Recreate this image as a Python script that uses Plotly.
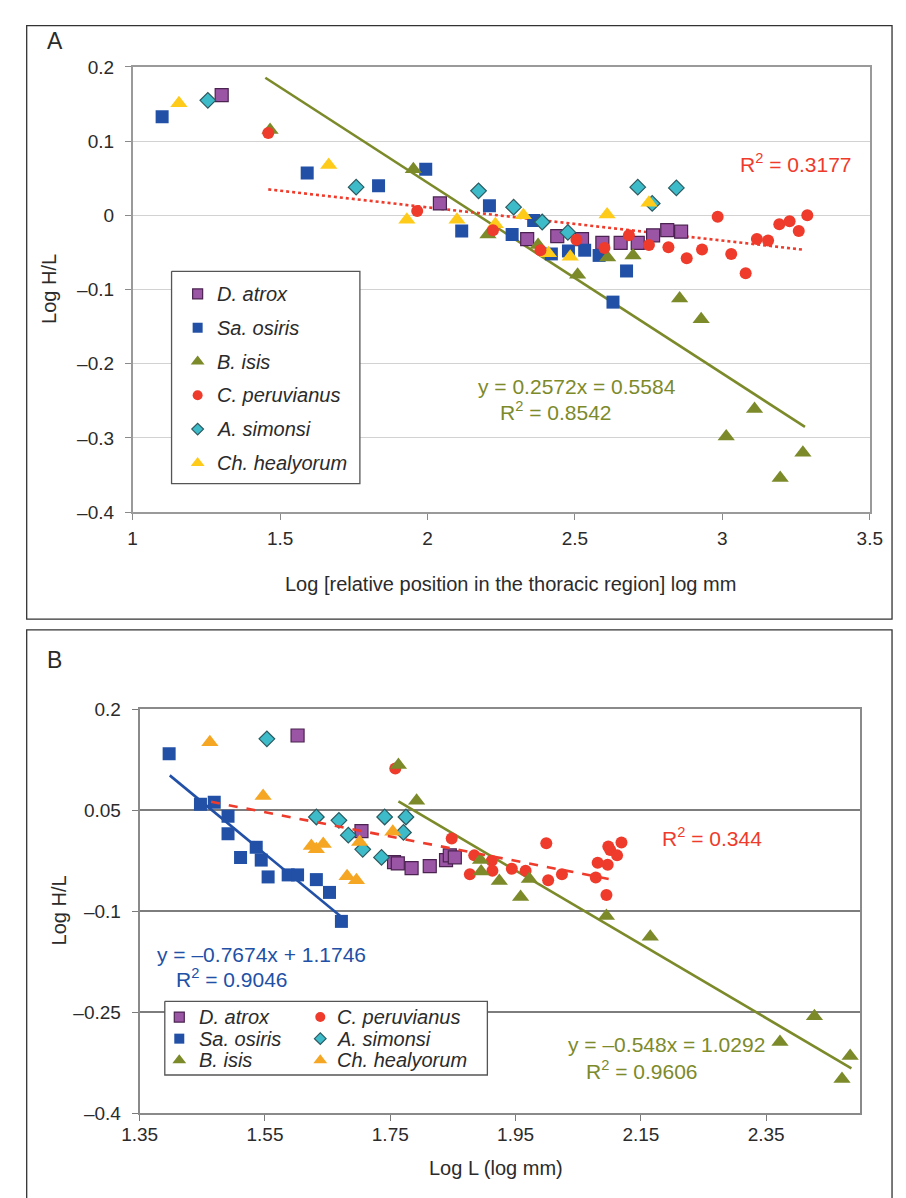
import plotly.graph_objects as go

# ---------------- data ----------------
SPECIES = ["D. atrox", "Sa. osiris", "B. isis", "C. peruvianus", "A. simonsi", "Ch. healyorum"]

# Panel A: log relative thoracic position vs log H/L
a_atrox_x = [1.302, 2.042, 2.338, 2.44, 2.524, 2.593, 2.655, 2.713, 2.765, 2.813, 2.860]
a_atrox_y = [0.162, 0.016, -0.032, -0.028, -0.032, -0.037, -0.037, -0.037, -0.027, -0.020, -0.022]
a_osiris_x = [1.10, 1.592, 1.834, 1.994, 2.116, 2.21, 2.287, 2.36, 2.42, 2.478, 2.533, 2.582, 2.629, 2.675]
a_osiris_y = [0.133, 0.057, 0.040, 0.062, -0.021, 0.013, -0.026, -0.007, -0.052, -0.048, -0.047, -0.054, -0.117, -0.075]
a_isis_x = [1.466, 1.952, 2.205, 2.375, 2.509, 2.611, 2.697, 2.855, 2.928, 3.013, 3.109, 3.196, 3.273]
a_isis_y = [0.115, 0.062, -0.026, -0.040, -0.080, -0.057, -0.054, -0.112, -0.140, -0.298, -0.261, -0.354, -0.320]
a_peru_x = [1.46, 1.965, 2.222, 2.383, 2.505, 2.60, 2.683, 2.751, 2.817, 2.879, 2.931, 2.984, 3.03,
            3.079, 3.117, 3.155, 3.193, 3.228, 3.259, 3.288]
a_peru_y = [0.111, 0.006, -0.020, -0.047, -0.033, -0.044, -0.027, -0.040, -0.043, -0.058, -0.046, -0.002,
            -0.052, -0.078, -0.032, -0.034, -0.012, -0.008, -0.021, 0.0]
a_simonsi_x = [1.255, 1.758, 2.173, 2.292, 2.389, 2.476, 2.713, 2.762, 2.844]
a_simonsi_y = [0.155, 0.038, 0.033, 0.011, -0.009, -0.023, 0.038, 0.016, 0.037]
a_healy_x = [1.157, 1.665, 1.93, 2.10, 2.23, 2.325, 2.41, 2.484, 2.609, 2.751]
a_healy_y = [0.151, 0.068, -0.006, -0.006, -0.012, 0.0, -0.051, -0.056, 0.001, 0.017]

# Panel B: log L vs log H/L
b_atrox_x = [1.602, 1.704, 1.756, 1.762, 1.784, 1.813, 1.839, 1.845, 1.853]
b_atrox_y = [0.161, 0.019, -0.027, -0.029, -0.036, -0.033, -0.024, -0.017, -0.020]
b_osiris_x = [1.397, 1.447, 1.469, 1.491, 1.491, 1.511, 1.536, 1.544, 1.555, 1.587, 1.602, 1.632, 1.653, 1.672]
b_osiris_y = [0.134, 0.059, 0.062, 0.041, 0.015, -0.020, -0.005, -0.024, -0.049, -0.046, -0.046, -0.053, -0.072, -0.115]
b_isis_x = [1.763, 1.792, 1.894, 1.895, 1.924, 1.958, 1.972, 2.095, 2.165, 2.372, 2.427, 2.471, 2.484]
b_isis_y = [0.117, 0.064, -0.024, -0.041, -0.055, -0.079, -0.052, -0.107, -0.138, -0.294, -0.256, -0.349, -0.315]
b_peru_x = [1.758, 1.848, 1.877, 1.884, 1.912, 1.913, 1.944, 1.966, 1.999, 2.002, 2.024, 2.078, 2.081,
            2.095, 2.097, 2.098, 2.101, 2.112, 2.119]
b_peru_y = [0.112, 0.008, -0.045, -0.017, -0.025, -0.040, -0.037, -0.040, 0.001, -0.054, -0.045, -0.050,
            -0.028, -0.076, -0.031, -0.004, -0.009, -0.017, 0.002]
b_simonsi_x = [1.553, 1.632, 1.668, 1.683, 1.706, 1.736, 1.741, 1.775, 1.771]
b_simonsi_y = [0.156, 0.040, 0.035, 0.013, -0.008, -0.020, 0.040, 0.040, 0.017]
b_healy_x = [1.462, 1.547, 1.624, 1.632, 1.643, 1.681, 1.696, 1.701, 1.754]
b_healy_y = [0.151, 0.071, -0.003, -0.008, 0.000, -0.048, -0.054, 0.003, 0.018]

# Trend lines: (slope, intercept, x_start, x_end)
a_isis_fit = (-0.2572, 0.5584, 1.45, 3.28)
a_peru_fit = (-0.0448, 0.1004, 1.46, 3.27)
b_osiris_fit = (-0.7674, 1.1746, 1.398, 1.676)
b_isis_fit = (-0.548, 1.0292, 1.763, 2.486)
b_peru_fit = (-0.1806, 0.327, 1.464, 2.109)

# Tick values / labels
a_xticks = [1, 1.5, 2, 2.5, 3, 3.5]
a_xlabels = ["1", "1.5", "2", "2.5", "3", "3.5"]
a_yticks = [0.2, 0.1, 0, -0.1, -0.2, -0.3, -0.4]
a_ylabels = ["0.2", "0.1", "0", "\u20130.1", "\u20130.2", "\u20130.3", "\u20130.4"]
b_xticks = [1.35, 1.55, 1.75, 1.95, 2.15, 2.35]
b_xlabels = ["1.35", "1.55", "1.75", "1.95", "2.15", "2.35"]
b_yticks = [0.2, 0.05, -0.1, -0.25, -0.4]
b_ylabels = ["0.2", "0.05", "\u20130.1", "\u20130.25", "\u20130.4"]

# ---------------- styling ----------------
W, H = 906, 1198
FONT = "Liberation Sans, Arial, Helvetica, sans-serif"
TEXT = "#2b2b2b"
C_PURPLE, C_PURPLE_EDGE = "#9A55A4", "#4B2350"
C_BLUE = "#2150A6"
C_OLIVE = "#7C8A2A"
C_RED = "#EE3B2B"
C_CYAN, C_CYAN_EDGE = "#3DBBC8", "#2D5A60"
C_YELLOW_A = "#FFCB1A"
C_YELLOW_B = "#F5A623"


def px(x):
    return x / W


def py(y):
    return 1 - y / H


def marker(symbol, color, size, edge=None):
    m = dict(symbol=symbol, color=color, size=size)
    m["line"] = dict(color=edge, width=1.2) if edge else dict(width=0)
    return m


STYLE_A = {
    "D. atrox": marker("square", C_PURPLE, 13, C_PURPLE_EDGE),
    "Sa. osiris": marker("square", C_BLUE, 13),
    "B. isis": marker("triangle-up", C_OLIVE, 15),
    "C. peruvianus": marker("circle", C_RED, 12),
    "A. simonsi": marker("diamond", C_CYAN, 12, C_CYAN_EDGE),
    "Ch. healyorum": marker("triangle-up", C_YELLOW_A, 15),
}
STYLE_B = dict(STYLE_A)
STYLE_B["Ch. healyorum"] = marker("triangle-up", C_YELLOW_B, 15)

fig = go.Figure()

# ---------------- panel A ----------------
series_a = {
    "D. atrox": (a_atrox_x, a_atrox_y),
    "Sa. osiris": (a_osiris_x, a_osiris_y),
    "B. isis": (a_isis_x, a_isis_y),
    "A. simonsi": (a_simonsi_x, a_simonsi_y),
    "Ch. healyorum": (a_healy_x, a_healy_y),
    "C. peruvianus": (a_peru_x, a_peru_y),
}


def fit_line(fit, xa, ya, color, dash, width=2.6):
    s, b, x0, x1 = fit
    fig.add_trace(go.Scatter(x=[x0, x1], y=[s * x0 + b, s * x1 + b], mode="lines",
                             line=dict(color=color, width=width, dash=dash),
                             xaxis=xa, yaxis=ya, showlegend=False, hoverinfo="skip"))


fit_line(a_isis_fit, "x", "y", C_OLIVE, "solid")
fit_line(a_peru_fit, "x", "y", C_RED, "dot")
for name, (xs, ys) in series_a.items():
    fig.add_trace(go.Scatter(x=xs, y=ys, mode="markers", marker=STYLE_A[name], name=name,
                             xaxis="x", yaxis="y", showlegend=False))

# ---------------- panel B ----------------
series_b = {
    "D. atrox": (b_atrox_x, b_atrox_y),
    "Sa. osiris": (b_osiris_x, b_osiris_y),
    "A. simonsi": (b_simonsi_x, b_simonsi_y),
    "Ch. healyorum": (b_healy_x, b_healy_y),
    "C. peruvianus": (b_peru_x, b_peru_y),
    "B. isis": (b_isis_x, b_isis_y),
}
fit_line(b_osiris_fit, "x2", "y2", C_BLUE, "solid")
fit_line(b_isis_fit, "x2", "y2", C_OLIVE, "solid")
for name, (xs, ys) in series_b.items():
    fig.add_trace(go.Scatter(x=xs, y=ys, mode="markers", marker=STYLE_B[name], name=name,
                             xaxis="x2", yaxis="y2", showlegend=False))
fit_line(b_peru_fit, "x2", "y2", C_RED, "dash")

# ---------------- legends (drawn on a pixel-space overlay axis) ----------------
LEG_FONT = dict(family=FONT, size=20, color=TEXT)
SW_SIZE = {"square": 10, "triangle-up": 12, "circle": 10, "diamond": 9}


def legend_box(x0, y0, x1, y1):
    fig.add_trace(go.Scatter(x=[x0, x1, x1, x0, x0], y=[y0, y0, y1, y1, y0], mode="lines",
                             fill="toself", fillcolor="white",
                             line=dict(color="#555555", width=1.3),
                             xaxis="x3", yaxis="y3", showlegend=False, hoverinfo="skip"))


def legend_entry(style, label, mx, my, tx):
    m = dict(style)
    m["size"] = SW_SIZE[m["symbol"]]
    fig.add_trace(go.Scatter(x=[mx], y=[my], mode="markers", marker=m,
                             xaxis="x3", yaxis="y3", showlegend=False, hoverinfo="skip"))
    fig.add_annotation(x=px(tx), y=py(my), xref="paper", yref="paper", text=f"<i>{label}</i>",
                       showarrow=False, xanchor="left", yanchor="middle", font=LEG_FONT)


# panel A legend: single column
legend_box(159, 266, 354, 482)
for i, name in enumerate(SPECIES):
    legend_entry(STYLE_A[name], name, 186, 289 + i * 34.4, 204)

# panel B legend: three rows, two columns
legend_box(152, 1009, 486, 1084)
for i, name in enumerate(SPECIES):
    col, row = divmod(i, 3)
    legend_entry(STYLE_B[name], name, 167 + col * 146, 1025 + row * 22, 185 + col * 143)

# ---------------- axes ----------------
TICKFONT = dict(family=FONT, size=19, color=TEXT)
common = dict(ticks="outside", ticklen=6, tickfont=TICKFONT, zeroline=False, showline=True,
              mirror=True, fixedrange=True)

A_L, A_R, A_T, A_B = 118.7, 882, 58, 511
B_L, B_R, B_T, B_B = 126, 872, 711.7, 1123

fig.update_layout(
    xaxis=dict(domain=[px(A_L), px(A_R)], anchor="y", range=[1, 3.5], tickvals=a_xticks,
               ticktext=a_xlabels, showgrid=False, linecolor="#9a9a9a", linewidth=1.5,
               tickcolor="#8a8a8a", ticklabelstandoff=2, **common),
    yaxis=dict(domain=[py(A_B), py(A_T)], anchor="x", range=[-0.4, 0.2], tickvals=a_yticks,
               ticktext=a_ylabels, showgrid=True, gridcolor="#d2d2d2", gridwidth=1.3,
               linecolor="#9a9a9a", linewidth=1.5, tickcolor="#8a8a8a", ticklabelstandoff=7,
               **common),
    xaxis2=dict(domain=[px(B_L), px(B_R)], anchor="y2", range=[1.35, 2.5], tickvals=b_xticks,
                ticktext=b_xlabels, showgrid=False, linecolor="#8a8a8a", linewidth=2,
                tickcolor="#7a7a7a", ticklabelstandoff=-3, **common),
    yaxis2=dict(domain=[py(B_B), py(B_T)], anchor="x2", range=[-0.4, 0.2], tickvals=b_yticks,
                ticktext=b_ylabels, showgrid=True, gridcolor="#7d7d7d", gridwidth=2.2,
                linecolor="#8a8a8a", linewidth=2, tickcolor="#7a7a7a", ticklabelstandoff=7,
                **common),
    xaxis3=dict(domain=[0, 1], anchor="y3", range=[0, W], visible=False, fixedrange=True),
    yaxis3=dict(domain=[0, 1], anchor="x3", range=[H, 0], visible=False, fixedrange=True),
    width=W, height=H, margin=dict(l=0, r=0, t=0, b=0),
    paper_bgcolor="white", plot_bgcolor="rgba(0,0,0,0)", showlegend=False,
    font=dict(family=FONT, color=TEXT),
)

# ---------------- frames, panel letters, titles, fit labels ----------------
for (x0, y0, x1, y1) in [(9, 16, 905, 620), (9, 631, 905, 1210)]:
    fig.add_shape(type="rect", xref="paper", yref="paper", x0=px(x0), x1=px(x1),
                  y0=py(y1), y1=py(y0), line=dict(color="#333333", width=1.3), layer="above")


def label(text, x, y, size=20, color=TEXT, anchor="center", angle=0):
    fig.add_annotation(x=px(x), y=py(y), xref="paper", yref="paper", text=text, showarrow=False,
                       xanchor=anchor, yanchor="middle", textangle=angle,
                       font=dict(family=FONT, size=size, color=color))


label("A", 38, 32, size=23)
label("B", 38, 662, size=23)
label("Log H/L", 32, 284, angle=-90)
label("Log H/L", 42, 917, angle=-90)
label("Log [relative position in the thoracic region] log mm", 510, 584)
label("Log L (log mm)", 495, 1179)

label("y = 0.2572x = 0.5584", 474, 383, size=21, color=C_OLIVE, anchor="left")
label("R<sup>2</sup> = 0.8542", 497, 408, size=21, color=C_OLIVE, anchor="left")
label("R<sup>2</sup> = 0.3177", 745, 156, size=21, color=C_RED, anchor="left")
label("R<sup>2</sup> = 0.344", 665, 842, size=21, color=C_RED, anchor="left")
label("y = \u20130.7674x + 1.1746", 142, 961, size=21, color=C_BLUE, anchor="left")
label("R<sup>2</sup> = 0.9046", 162, 985, size=21, color=C_BLUE, anchor="left")
label("y = \u20130.548x = 1.0292", 567, 1053, size=21, color=C_OLIVE, anchor="left")
label("R<sup>2</sup> = 0.9606", 586, 1079, size=21, color=C_OLIVE, anchor="left")

fig.write_html("out.html")
